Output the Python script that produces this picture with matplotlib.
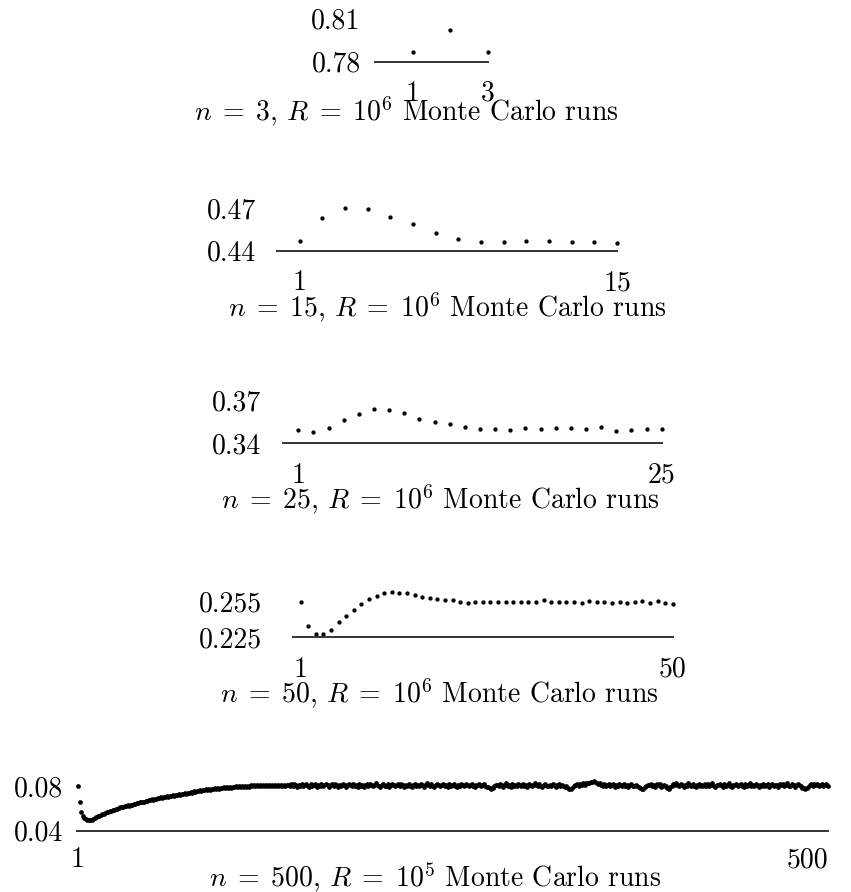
import numpy as np
import matplotlib.pyplot as plt

plt.rcParams['font.family'] = 'serif'
plt.rcParams['font.serif'] = ['cmr10']
plt.rcParams['mathtext.fontset'] = 'cm'
plt.rcParams['axes.unicode_minus'] = False

# estimated values per position, one series per n
vals_n3 = [0.7863, 0.8016, 0.7868]
vals_n15 = [0.4469, 0.4629, 0.4700, 0.4693, 0.4641, 0.4587, 0.4527, 0.4480,
            0.4464, 0.4464, 0.4471, 0.4471, 0.4459, 0.4459, 0.4452]
vals_n25 = [0.3492, 0.3480, 0.3508, 0.3561, 0.3603, 0.3638, 0.3631, 0.3612,
            0.3568, 0.3545, 0.3534, 0.3515, 0.3497, 0.3497, 0.3492, 0.3504,
            0.3497, 0.3504, 0.3504, 0.3497, 0.3511, 0.3485, 0.3492, 0.3497,
            0.3497]
vals_n50 = [0.2550, 0.2348, 0.2275, 0.2275, 0.2311, 0.2376, 0.2429, 0.2480,
            0.2531, 0.2570, 0.2600, 0.2621, 0.2634, 0.2621, 0.2621, 0.2606,
            0.2592, 0.2578, 0.2570, 0.2564, 0.2564, 0.2550, 0.2541, 0.2550,
            0.2550, 0.2550, 0.2550, 0.2550, 0.2550, 0.2550, 0.2550, 0.2550,
            0.2564, 0.2550, 0.2550, 0.2550, 0.2550, 0.2541, 0.2559, 0.2550,
            0.2550, 0.2541, 0.2550, 0.2536, 0.2550, 0.2559, 0.2541, 0.2559,
            0.2541, 0.2531]
# n = 500, in units of 1e-4
vals_n500 = [
    809, 658, 573, 532, 512, 502, 498, 494, 497, 501,
    505, 514, 524, 530, 535, 542, 548, 556, 559, 568,
    569, 578, 580, 589, 590, 599, 600, 609, 612, 617,
    616, 624, 621, 630, 627, 636, 633, 643, 641, 650,
    648, 658, 657, 665, 660, 672, 669, 678, 675, 686,
    683, 692, 687, 697, 694, 702, 698, 709, 704, 713,
    710, 718, 714, 724, 719, 728, 723, 733, 727, 737,
    733, 741, 737, 747, 742, 752, 746, 757, 752, 762,
    757, 766, 761, 772, 767, 776, 769, 779, 772, 782,
    775, 786, 779, 789, 782, 792, 784, 795, 786, 797,
    788, 799, 791, 801, 793, 803, 794, 806, 797, 805,
    798, 808, 800, 810, 799, 811, 802, 812, 803, 811,
    804, 813, 805, 815, 807, 813, 806, 816, 808, 814,
    807, 816, 809, 815, 806, 817, 810, 814, 808, 818,
    818, 803, 822, 806, 825, 811, 799, 819, 808, 824,
    804, 815, 827, 810, 801, 821, 807, 813, 826, 800,
    820, 809, 824, 803, 814, 829, 811, 799, 817, 822,
    806, 826, 813, 801, 819, 809, 824, 812, 798, 816,
    828, 811, 804, 821, 808, 817, 800, 825, 810, 819,
    799, 813, 827, 806, 822, 811, 803, 818, 830, 812,
    808, 801, 816, 824, 810, 805, 821, 798, 814, 826,
    817, 803, 811, 823, 808, 829, 813, 800, 819, 806,
    825, 810, 798, 816, 827, 807, 813, 802, 822, 811,
    800, 819, 831, 812, 805, 823, 809, 797, 816, 825,
    811, 802, 820, 828, 807, 814, 799, 824, 806, 817,
    829, 810, 798, 819, 808, 825, 813, 802, 822, 811,
    805, 816, 827, 809, 799, 820, 812, 824, 803, 811,
    822, 808, 800, 794, 784, 776, 790, 803, 815, 820,
    806, 824, 811, 800, 817, 830, 808, 813, 799, 823,
    810, 820, 803, 828, 813, 805, 822, 809, 818, 800,
    825, 811, 802, 819, 831, 812, 805, 823, 808, 798,
    816, 828, 810, 803, 820, 807, 825, 813, 800, 811,
    823, 806, 817, 809, 798, 802, 790, 781, 776, 792,
    805, 814, 822, 809, 826, 815, 830, 820, 834, 838,
    831, 840, 846, 852, 842, 833, 824, 830, 818, 810,
    822, 807, 815, 826, 804, 813, 821, 801, 818, 809,
    827, 812, 802, 821, 808, 816, 799, 819, 829, 810,
    803, 817, 808, 798, 790, 781, 778, 796, 806, 820,
    811, 825, 807, 816, 801, 822, 812, 828, 800, 809,
    819, 803, 790, 782, 797, 809, 822, 813, 830, 811,
    805, 824, 813, 800, 819, 808, 831, 815, 803, 822,
    810, 798, 818, 827, 806, 813, 802, 823, 809, 825,
    804, 816, 830, 808, 799, 820, 811, 826, 812, 801,
    823, 807, 816, 832, 810, 797, 819, 813, 828, 804,
    812, 825, 808, 800, 822, 810, 815, 830, 803, 820,
    807, 828, 813, 798, 819, 810, 826, 804, 816, 823,
    801, 813, 829, 808, 820, 811, 799, 825, 812, 822,
    806, 816, 831, 810, 803, 823, 812, 797, 818, 828,
    811, 802, 792, 784, 780, 787, 800, 814, 825, 808,
    821, 811, 829, 804, 815, 822, 807, 813, 826, 810,
]

ns = [3, 15, 25, 50, 500]
r_exps = [6, 6, 6, 6, 5]
series = [vals_n3, vals_n15, vals_n25, vals_n50,
          list(np.array(vals_n500) * 1e-4)]
yticks = [(0.78, 0.81), (0.44, 0.47), (0.34, 0.37), (0.225, 0.255), (0.04, 0.08)]
ylabels = [('0.78', '0.81'), ('0.44', '0.47'), ('0.34', '0.37'),
           ('0.225', '0.255'), ('0.04', '0.08')]

W, H = 851, 892
fig = plt.figure(figsize=(W / 100, H / 100), dpi=100)

# axes boxes in pixels: left, right, top, bottom
boxes = [(375, 488, 18, 61.5),
         (277, 617, 208.3, 250.7),
         (283.2, 661.7, 400, 443.3),
         (293.1, 672.7, 601.7, 637.3),
         (76.5, 828, 786.7, 830.7)]
ypads = [10.3, 14.8, 15.6, 22.3, 9.6]
xpads = [13.8, 13.8, 13.8, 13.8, 11.5]
# caption centre x and baseline y, pixels
titles_at = [(406, 120.5), (447, 316), (440, 508), (439, 702), (435, 886)]
msizes = [3.1, 3.1, 3.1, 3.1, 3.4]

for i in range(5):
    l, r, t, b = boxes[i]
    ax = fig.add_axes([l / W, 1 - b / H, (r - l) / W, (b - t) / H])
    n = ns[i]
    x = np.arange(1, n + 1)
    ax.plot(x, series[i], 'o', ms=msizes[i], mew=0, color='black', clip_on=False)
    ax.set_xlim(0, n)
    ax.set_ylim(*yticks[i])
    for s in ['left', 'top', 'right']:
        ax.spines[s].set_visible(False)
    ax.spines['bottom'].set_color('#333333')
    ax.spines['bottom'].set_linewidth(1.4)
    ax.set_xticks([1, n])
    ax.set_xticklabels(['1', str(n)])
    ax.set_yticks(yticks[i])
    ax.set_yticklabels(ylabels[i])
    ax.tick_params(axis='x', length=0, pad=xpads[i], labelsize=20)
    ax.tick_params(axis='y', length=0, pad=ypads[i], labelsize=20)
    ax.patch.set_visible(False)
    if n == 500:
        ax.get_xticklabels()[-1].set_ha('right')
    cx, cy = titles_at[i]
    fig.text(cx / W, 1 - cy / H,
             rf'$n\;=\;{n}$, $R\;=\;10^{r_exps[i]}$ Monte Carlo runs',
             ha='center', va='baseline', fontsize=20)

fig.savefig('out.png', dpi=100)
